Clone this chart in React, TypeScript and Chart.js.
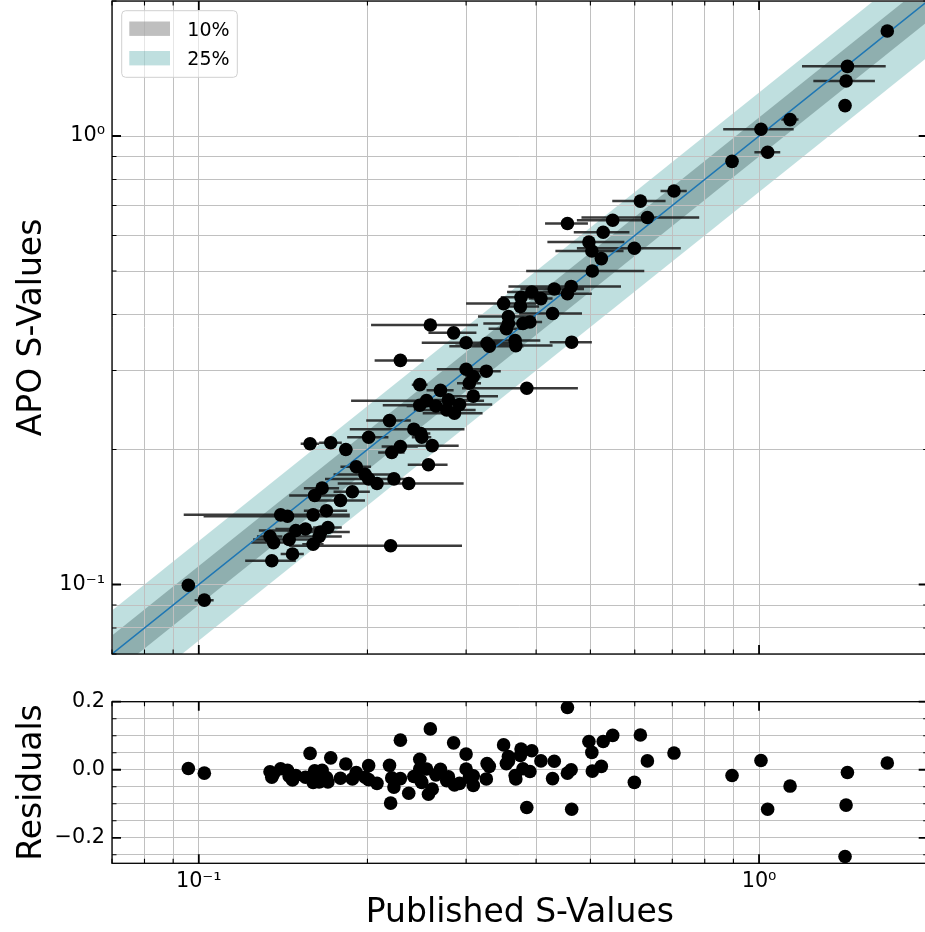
import React, { useEffect, useRef } from 'react';
import { Chart, registerables } from 'chart.js';

Chart.register(...registerables);

// ---------------- data ----------------
const publishedS = [
  1.694, 1.438, 1.430, 1.424, 1.136, 1.008, 1.036, 0.895, 0.705, 0.614,
  0.632, 0.548, 0.455, 0.527, 0.497, 0.503, 0.599, 0.523, 0.504, 0.462,
  0.431, 0.455, 0.393, 0.408, 0.376, 0.350, 0.375, 0.357, 0.428, 0.357,
  0.390, 0.379, 0.354, 0.285, 0.463, 0.300, 0.327, 0.330, 0.367, 0.368,
  0.259, 0.229, 0.300, 0.326, 0.309, 0.304, 0.248, 0.385, 0.270, 0.309,
  0.279, 0.255, 0.248, 0.265, 0.292, 0.277, 0.286, 0.219, 0.242, 0.249,
  0.250, 0.201, 0.261, 0.172, 0.158, 0.183, 0.229, 0.221, 0.257, 0.191,
  0.198, 0.201, 0.208, 0.223, 0.237, 0.166, 0.161, 0.188, 0.179, 0.169,
  0.160, 0.140, 0.144, 0.149, 0.155, 0.165, 0.170, 0.164, 0.134, 0.136,
  0.145, 0.160, 0.220, 0.147, 0.135, 0.0958, 0.1023,
];
const apoS = [
  1.714, 1.430, 1.326, 1.169, 1.088, 1.035, 0.920, 0.878, 0.754, 0.716,
  0.658, 0.649, 0.638, 0.610, 0.580, 0.554, 0.562, 0.533, 0.500, 0.462,
  0.456, 0.445, 0.449, 0.434, 0.437, 0.423, 0.417, 0.396, 0.402, 0.382,
  0.385, 0.382, 0.372, 0.364, 0.347, 0.346, 0.345, 0.340, 0.350, 0.341,
  0.379, 0.316, 0.302, 0.299, 0.291, 0.281, 0.279, 0.274, 0.271, 0.263,
  0.258, 0.257, 0.251, 0.250, 0.252, 0.245, 0.241, 0.232, 0.222, 0.217,
  0.213, 0.213, 0.204, 0.207, 0.206, 0.200, 0.203, 0.197, 0.185, 0.183,
  0.176, 0.172, 0.168, 0.172, 0.168, 0.164, 0.158, 0.161, 0.154, 0.146,
  0.143, 0.143, 0.142, 0.132, 0.133, 0.131, 0.134, 0.128, 0.128, 0.124,
  0.126, 0.123, 0.122, 0.117, 0.113, 0.0996, 0.0923,
];
const publishedErr = [
  0.000, 0.245, 0.180, 0.000, 0.040, 0.145, 0.055, 0.000, 0.038, 0.067,
  0.150, 0.075, 0.040, 0.060, 0.078, 0.070, 0.126, 0.005, 0.120, 0.105,
  0.056, 0.048, 0.038, 0.020, 0.030, 0.050, 0.030, 0.042, 0.055, 0.035,
  0.020, 0.020, 0.025, 0.028, 0.040, 0.050, 0.040, 0.050, 0.040, 0.060,
  0.056, 0.023, 0.034, 0.020, 0.010, 0.015, 0.008, 0.090, 0.015, 0.033,
  0.030, 0.068, 0.035, 0.030, 0.042, 0.035, 0.035, 0.020, 0.056, 0.010,
  0.010, 0.017, 0.030, 0.008, 0.006, 0.005, 0.017, 0.012, 0.021, 0.012,
  0.024, 0.033, 0.028, 0.012, 0.060, 0.012, 0.016, 0.014, 0.019, 0.015,
  0.010, 0.046, 0.042, 0.021, 0.018, 0.021, 0.010, 0.016, 0.007, 0.012,
  0.020, 0.007, 0.075, 0.007, 0.014, 0.000, 0.004,
];

const xRange = [0.07, 2.0];
const yRange = [0.07, 2.0];
const residualRange = [-0.275, 0.2];
const logMajorTicks = [0.1, 1];
const logMinorTicks = [0.07, 0.08, 0.09, 0.2, 0.3, 0.4, 0.5, 0.6, 0.7, 0.8, 0.9, 2];
const residualMajorTicks = [-0.2, 0, 0.2];
const residualMinorTicks = [-0.25, -0.15, -0.1, -0.05, 0.05, 0.1, 0.15];
const bandLevels = [0.1, 0.25];
const bandLabels = ['10%', '25%'];
const referenceLineX = [0.03, 4];

// ---------------- styles ----------------
const FONT = "'DejaVu Sans', 'Liberation Sans', sans-serif";
const GRID = '#c0c0c0';
const BAND_COLORS = ['rgba(128,128,128,0.5)', 'rgba(0,128,128,0.25)'];
const W = 930;
const TOP_H = 670;
const BOT_H = 252;
const BOT_TOP = 680;
const AXIS_W = 112;
const RIGHT_PAD = 2.3;
const MARKER_R = 6.8;

const near = (a: number, b: number) => Math.abs(a - b) < 1e-9;
const allLogTicks = [...logMajorTicks, ...logMinorTicks].sort((a, b) => a - b);
const allResTicks = [...residualMajorTicks, ...residualMinorTicks].sort((a, b) => a - b);

function logLabel(v: number): string {
  if (near(v, 0.1)) return '10\u207B\u00B9';
  if (near(v, 1)) return '10\u2070';
  return '';
}
function resLabel(v: number): string {
  if (near(v, 0.2)) return '0.2';
  if (near(v, 0)) return '0.0';
  if (near(v, -0.2)) return '\u22120.2';
  return '';
}

function framePlugin(id: string, xMaj: number[], xMin: number[], yMaj: number[], yMin: number[]) {
  return {
    id,
    afterDraw(chart: any) {
      const { ctx, chartArea: a, scales } = chart;
      const xs = scales.x;
      const ys = scales.y;
      ctx.save();
      ctx.strokeStyle = '#000';
      const dx = (vals: number[], len: number, lw: number) => {
        ctx.lineWidth = lw;
        ctx.beginPath();
        for (const v of vals) {
          const p = xs.getPixelForValue(v);
          if (p < a.left - 1 || p > a.right + 1) continue;
          ctx.moveTo(p, a.bottom);
          ctx.lineTo(p, a.bottom - len);
          ctx.moveTo(p, a.top);
          ctx.lineTo(p, a.top + len);
        }
        ctx.stroke();
      };
      const dy = (vals: number[], len: number, lw: number) => {
        ctx.lineWidth = lw;
        ctx.beginPath();
        for (const v of vals) {
          const p = ys.getPixelForValue(v);
          if (p < a.top - 1 || p > a.bottom + 1) continue;
          ctx.moveTo(a.left, p);
          ctx.lineTo(a.left + len, p);
          ctx.moveTo(a.right, p);
          ctx.lineTo(a.right - len, p);
        }
        ctx.stroke();
      };
      dx(xMin, 4.5, 1.1);
      dx(xMaj, 9, 1.8);
      dy(yMin, 4.5, 1.1);
      dy(yMaj, 9, 1.8);
      ctx.lineWidth = 1.3;
      ctx.strokeRect(a.left, a.top, a.right - a.left, a.bottom - a.top);
      ctx.restore();
    },
  };
}

const errorBarPlugin = {
  id: 'xErrorBars',
  beforeDatasetsDraw(chart: any) {
    const { ctx, chartArea: a, scales } = chart;
    const xs = scales.x;
    const ys = scales.y;
    ctx.save();
    ctx.beginPath();
    ctx.rect(a.left, a.top, a.right - a.left, a.bottom - a.top);
    ctx.clip();
    ctx.strokeStyle = 'rgba(25,25,25,0.85)';
    ctx.lineWidth = 2.5;
    ctx.beginPath();
    publishedS.forEach((sx, i) => {
      const e = publishedErr[i];
      if (!e) return;
      const py = ys.getPixelForValue(apoS[i]);
      ctx.moveTo(xs.getPixelForValue(sx - e), py);
      ctx.lineTo(xs.getPixelForValue(sx + e), py);
    });
    ctx.stroke();
    ctx.restore();
  },
};

const legendPlugin = {
  id: 'bandLegend',
  afterDraw(chart: any) {
    const { ctx, chartArea: a } = chart;
    const bx = a.left + 9.7;
    const by = a.top + 9.7;
    const bw = 115.6;
    const bh = 66.6;
    const r = 4;
    ctx.save();
    ctx.beginPath();
    ctx.moveTo(bx + r, by);
    ctx.lineTo(bx + bw - r, by);
    ctx.arcTo(bx + bw, by, bx + bw, by + r, r);
    ctx.lineTo(bx + bw, by + bh - r);
    ctx.arcTo(bx + bw, by + bh, bx + bw - r, by + bh, r);
    ctx.lineTo(bx + r, by + bh);
    ctx.arcTo(bx, by + bh, bx, by + bh - r, r);
    ctx.lineTo(bx, by + r);
    ctx.arcTo(bx, by, bx + r, by, r);
    ctx.closePath();
    ctx.fillStyle = 'rgba(255,255,255,0.6)';
    ctx.fill();
    ctx.strokeStyle = '#d0d0d0';
    ctx.lineWidth = 1;
    ctx.stroke();
    bandLabels.forEach((lab, i) => {
      const cy = by + 18 + i * 29.5;
      ctx.fillStyle = BAND_COLORS[i];
      ctx.fillRect(bx + 7.6, cy - 7.2, 40.7, 14.4);
      ctx.fillStyle = '#000';
      ctx.font = `19px ${FONT}`;
      ctx.textAlign = 'left';
      ctx.textBaseline = 'alphabetic';
      ctx.fillText(lab, bx + 65.6, cy + 7);
    });
    ctx.restore();
  },
};

const zeroPad = (s: any) => {
  s.paddingTop = 0;
  s.paddingBottom = 0;
  s.paddingLeft = 0;
  s.paddingRight = 0;
};

function topConfig(): any {
  const points = publishedS.map((x, i) => ({ x, y: apoS[i] }));
  const bandSets: any[] = [];
  // 25% band first in list (drawn on top by the filler), 10% band after it
  [1, 0].forEach((k) => {
    const lvl = bandLevels[k];
    bandSets.push({
      type: 'line',
      data: referenceLineX.map((x) => ({ x, y: x * (1 + lvl) })),
      borderWidth: 0,
      borderColor: 'transparent',
      pointRadius: 0,
      fill: '+1',
      backgroundColor: BAND_COLORS[k],
    });
    bandSets.push({
      type: 'line',
      data: referenceLineX.map((x) => ({ x, y: x * (1 - lvl) })),
      borderWidth: 0,
      borderColor: 'transparent',
      pointRadius: 0,
      fill: false,
    });
  });
  return {
    type: 'scatter',
    data: {
      datasets: [
        {
          type: 'scatter',
          data: points,
          pointRadius: MARKER_R,
          pointBackgroundColor: '#000',
          pointBorderWidth: 0,
          backgroundColor: '#000',
        },
        {
          type: 'line',
          data: referenceLineX.map((x) => ({ x, y: x })),
          borderColor: '#1f77b4',
          borderWidth: 1.5,
          pointRadius: 0,
          fill: false,
        },
        ...bandSets,
      ],
    },
    options: {
      responsive: false,
      animation: false,
      events: [],
      layout: { autoPadding: false, padding: { left: 0, right: RIGHT_PAD, top: 1, bottom: 0 } },
      plugins: {
        legend: { display: false },
        tooltip: { enabled: false },
        filler: { drawTime: 'beforeDraw', propagate: false },
      },
      scales: {
        x: {
          type: 'logarithmic',
          min: xRange[0],
          max: xRange[1],
          afterBuildTicks: (s: any) => {
            s.ticks = allLogTicks.map((v) => ({ value: v }));
          },
          afterFit: (s: any) => {
            s.height = TOP_H - 654;
            zeroPad(s);
          },
          grid: { color: GRID, lineWidth: 1, drawTicks: false },
          border: { display: false },
          ticks: { display: false, autoSkip: false },
        },
        y: {
          type: 'logarithmic',
          min: yRange[0],
          max: yRange[1],
          afterBuildTicks: (s: any) => {
            s.ticks = allLogTicks.map((v) => ({ value: v }));
          },
          afterFit: (s: any) => {
            s.width = AXIS_W;
            zeroPad(s);
          },
          grid: { color: GRID, lineWidth: 1, drawTicks: false },
          border: { display: false },
          ticks: {
            autoSkip: false,
            padding: 7,
            color: '#000',
            font: { family: FONT, size: 20.8 },
            callback: (v: any) => logLabel(Number(v)),
          },
          title: {
            display: true,
            text: 'APO S-Values',
            color: '#000',
            font: { family: FONT, size: 33, lineHeight: 1 },
            padding: { top: 15.5, bottom: 0 },
          },
        },
      },
    },
    plugins: [errorBarPlugin, legendPlugin, framePlugin('frameTop', logMajorTicks, logMinorTicks, logMajorTicks, logMinorTicks)],
  };
}

function bottomConfig(): any {
  const residuals = publishedS.map((x, i) => ({ x, y: apoS[i] - x }));
  return {
    type: 'scatter',
    data: {
      datasets: [
        {
          data: residuals,
          pointRadius: MARKER_R,
          pointBackgroundColor: '#000',
          pointBorderWidth: 0,
          backgroundColor: '#000',
        },
      ],
    },
    options: {
      responsive: false,
      animation: false,
      events: [],
      layout: { autoPadding: false, padding: { left: 0, right: RIGHT_PAD, top: 701.7 - BOT_TOP, bottom: 0 } },
      plugins: { legend: { display: false }, tooltip: { enabled: false } },
      scales: {
        x: {
          type: 'logarithmic',
          min: xRange[0],
          max: xRange[1],
          afterBuildTicks: (s: any) => {
            s.ticks = allLogTicks.map((v) => ({ value: v }));
          },
          afterFit: (s: any) => {
            s.height = BOT_H - (863.3 - BOT_TOP);
            zeroPad(s);
          },
          grid: { color: GRID, lineWidth: 1, drawTicks: false },
          border: { display: false },
          ticks: {
            autoSkip: false,
            maxRotation: 0,
            minRotation: 0,
            padding: 6,
            color: '#000',
            font: { family: FONT, size: 20.8 },
            callback: (v: any) => logLabel(Number(v)),
          },
          title: {
            display: true,
            text: 'Published S-Values',
            color: '#000',
            font: { family: FONT, size: 33, lineHeight: 1 },
            padding: { top: 0, bottom: 2.2 },
          },
        },
        y: {
          type: 'linear',
          min: residualRange[0],
          max: residualRange[1],
          afterBuildTicks: (s: any) => {
            s.ticks = allResTicks.map((v) => ({ value: v }));
          },
          afterFit: (s: any) => {
            s.width = AXIS_W;
            zeroPad(s);
          },
          grid: { color: GRID, lineWidth: 1, drawTicks: false },
          border: { display: false },
          ticks: {
            autoSkip: false,
            padding: 7,
            color: '#000',
            font: { family: FONT, size: 20.8 },
            callback: (v: any) => resLabel(Number(v)),
          },
          title: {
            display: true,
            text: 'Residuals',
            color: '#000',
            font: { family: FONT, size: 33, lineHeight: 1 },
            padding: { top: 15.5, bottom: 0 },
          },
        },
      },
    },
    plugins: [framePlugin('frameBottom', logMajorTicks, logMinorTicks, residualMajorTicks, residualMinorTicks)],
  };
}

export default function App() {
  const topRef = useRef<HTMLCanvasElement>(null);
  const botRef = useRef<HTMLCanvasElement>(null);
  useEffect(() => {
    const top = new Chart(topRef.current as HTMLCanvasElement, topConfig());
    const bot = new Chart(botRef.current as HTMLCanvasElement, bottomConfig());
    return () => {
      top.destroy();
      bot.destroy();
    };
  }, []);
  return (
    <div
      style={{
        position: 'absolute',
        left: 0,
        top: 0,
        width: 925,
        height: 932,
        overflow: 'hidden',
        background: '#fff',
      }}
    >
      <canvas
        ref={topRef}
        width={W}
        height={TOP_H}
        style={{ position: 'absolute', left: 0, top: 0, width: W, height: TOP_H }}
      />
      <canvas
        ref={botRef}
        width={W}
        height={BOT_H}
        style={{ position: 'absolute', left: 0, top: BOT_TOP, width: W, height: BOT_H }}
      />
    </div>
  );
}
